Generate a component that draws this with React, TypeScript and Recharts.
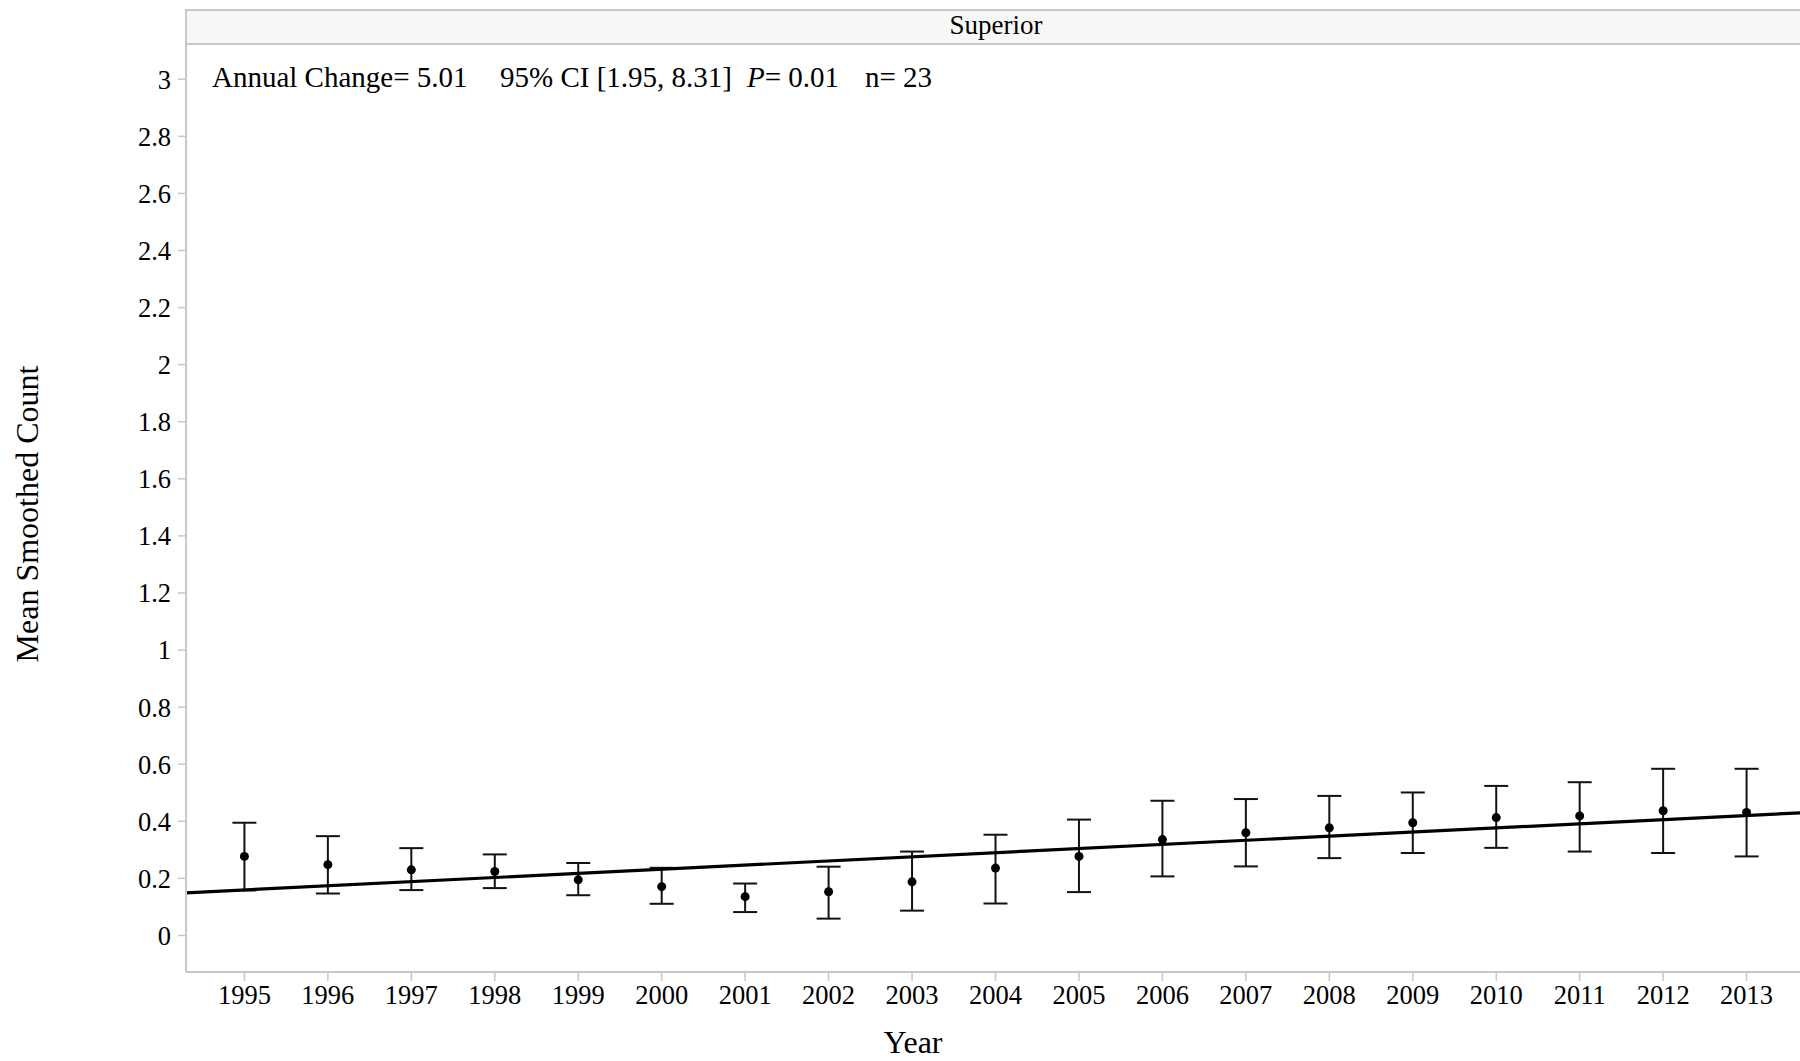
import { ComposedChart, Scatter, Line, XAxis, YAxis, ErrorBar } from 'recharts';

const years = [1995, 1996, 1997, 1998, 1999, 2000, 2001, 2002, 2003, 2004, 2005, 2006, 2007, 2008, 2009, 2010, 2011, 2012, 2013];
const means = [0.277, 0.248, 0.230, 0.224, 0.195, 0.171, 0.136, 0.153, 0.188, 0.236, 0.277, 0.336, 0.360, 0.377, 0.395, 0.413, 0.419, 0.437, 0.431];
const upper = [0.395, 0.348, 0.306, 0.284, 0.254, 0.237, 0.182, 0.241, 0.294, 0.353, 0.406, 0.472, 0.478, 0.489, 0.501, 0.524, 0.537, 0.584, 0.584];
const lower = [0.158, 0.147, 0.159, 0.166, 0.141, 0.111, 0.082, 0.059, 0.087, 0.112, 0.152, 0.207, 0.242, 0.271, 0.289, 0.307, 0.294, 0.289, 0.277];

// fitted trend, read at the left and right edges of the plot
const trendYears = [1994.3, 2013.64];
const trendValues = [0.1495, 0.4296];

const yTicks = [0, 0.2, 0.4, 0.6, 0.8, 1, 1.2, 1.4, 1.6, 1.8, 2, 2.2, 2.4, 2.6, 2.8, 3];

const points = years.map((year, i) => ({
  year,
  mean: means[i],
  err: [means[i] - lower[i], upper[i] - means[i]],
}));

const trend = trendYears.map((year, i) => ({ year, fit: trendValues[i] }));

const FONT = '"Liberation Serif", "Times New Roman", serif';
const GRID = '#c8c8c8';

const Dot = (props: any) => <circle cx={props.cx} cy={props.cy} r={4.5} fill="#000" />;

export default function App() {
  return (
    <div style={{ position: 'absolute', left: 0, top: 0, width: 1800, height: 1061, background: '#fff', fontFamily: FONT }}>
      <div
        style={{
          position: 'absolute',
          left: 185,
          top: 9,
          width: 1615,
          height: 36,
          boxSizing: 'border-box',
          background: '#f7f7f7',
          borderTop: `2px solid ${GRID}`,
          borderBottom: `2px solid ${GRID}`,
          borderLeft: `2px solid ${GRID}`,
        }}
      />
      <div style={{ position: 'absolute', left: 0, top: 0 }}>
        <ComposedChart width={1800} height={1061} margin={{ top: 45, right: 0, bottom: 0, left: 0 }}>
          <XAxis
            dataKey="year"
            type="number"
            domain={[trendYears[0], trendYears[1]]}
            ticks={years}
            allowDataOverflow
            height={89}
            tickSize={9}
            tickMargin={4}
            axisLine={{ stroke: GRID, strokeWidth: 2 }}
            tickLine={{ stroke: GRID, strokeWidth: 1.5 }}
            tick={{ fill: '#000', fontSize: 26.5, fontFamily: FONT }}
          />
          <YAxis
            type="number"
            domain={[-0.128, 3.12]}
            ticks={yTicks}
            allowDataOverflow
            width={186}
            tickSize={8}
            tickMargin={7}
            axisLine={{ stroke: GRID, strokeWidth: 2 }}
            tickLine={{ stroke: GRID, strokeWidth: 1.5 }}
            tick={{ fill: '#000', fontSize: 26.5, fontFamily: FONT }}
          />
          <Scatter data={points} dataKey="mean" shape={<Dot />} isAnimationActive={false}>
            <ErrorBar dataKey="err" direction="y" width={12} stroke="#111" strokeWidth={2} />
          </Scatter>
          <Line
            data={trend}
            dataKey="fit"
            type="linear"
            stroke="#000"
            strokeWidth={3.2}
            dot={false}
            activeDot={false}
            isAnimationActive={false}
          />
        </ComposedChart>
      </div>
      <svg width={1800} height={1061} style={{ position: 'absolute', left: 0, top: 0, pointerEvents: 'none' }}>
        <text x={996} y={34} textAnchor="middle" fontSize={27} fontFamily={FONT} fill="#000">Superior</text>
        <text y={87} fontSize={29} fontFamily={FONT} fill="#000">
          <tspan x={212}>Annual Change= 5.01</tspan>
          <tspan x={500}>95% CI [1.95, 8.31]</tspan>
          <tspan x={747} fontStyle="italic">P</tspan>
          <tspan>= 0.01</tspan>
          <tspan x={865}>n= 23</tspan>
        </text>
        <text x={913} y={1053} textAnchor="middle" fontSize={32} fontFamily={FONT} fill="#000">Year</text>
        <text
          x={27}
          y={514}
          transform="rotate(-90 27 514)"
          textAnchor="middle"
          dominantBaseline="central"
          fontSize={32}
          fontFamily={FONT}
          fill="#000"
        >
          Mean Smoothed Count
        </text>
      </svg>
    </div>
  );
}
